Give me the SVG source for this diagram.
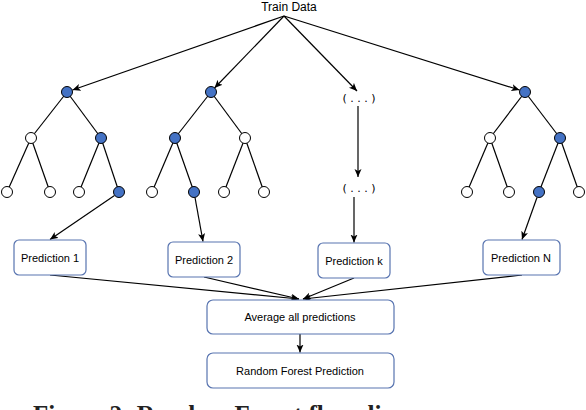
<svg xmlns="http://www.w3.org/2000/svg" width="586" height="410" viewBox="0 0 586 410">
<style>
.e{stroke:#000;stroke-width:1.2;fill:none}
.a{stroke:#000;stroke-width:1.2;fill:none;marker-end:url(#ah)}
.w{fill:#fff;stroke:#000;stroke-width:1}
.b{fill:#4472C4;stroke:#000;stroke-width:1}
.box{fill:#fff;stroke:#5874B0;stroke-width:1.2}
.t{font-family:"Liberation Sans",Arial,sans-serif;font-size:11px;fill:#000;text-anchor:middle}
.d{font-family:"DejaVu Sans",sans-serif;font-size:11px;fill:#000;text-anchor:middle}
.cap{font-family:"Liberation Serif","Times New Roman",serif;font-size:25px;font-weight:bold;fill:#222}
</style>
<defs>
<marker id="ah" markerUnits="userSpaceOnUse" markerWidth="10" markerHeight="8" refX="8" refY="3.5" orient="auto">
<path d="M0,0 L8,3.5 L0,7 L2,3.5 z" fill="#000"/>
</marker>
</defs>
<rect width="586" height="410" fill="#fff"/>

<g id="connectors">
<line class="a" x1="284" y1="16" x2="72.5" y2="90"/>
<line class="a" x1="284" y1="16" x2="214.5" y2="88"/>
<line class="a" x1="284" y1="16" x2="357" y2="91"/>
<line class="a" x1="284" y1="16" x2="519.5" y2="90"/>
<line class="a" x1="358" y1="106" x2="358" y2="177"/>
<line class="a" x1="114.5" y1="195.5" x2="50" y2="239.5"/>
<line class="a" x1="195" y1="197.5" x2="203" y2="241.5"/>
<line class="a" x1="354" y1="197" x2="354" y2="242.5"/>
<line class="a" x1="537" y1="197.5" x2="522" y2="239.5"/>
<line class="a" x1="50" y1="275" x2="299" y2="299"/>
<line class="a" x1="204" y1="277" x2="299" y2="299"/>
<line class="a" x1="354" y1="278" x2="303" y2="299"/>
<line class="a" x1="522" y1="275" x2="303" y2="299"/>
<line class="a" x1="300" y1="334" x2="300" y2="352.5"/>
</g>

<g id="train-data"><text class="t" x="289" y="11" style="font-size:12px">Train Data</text></g>

<g id="tree-1">
<line class="e" x1="67" y1="92" x2="31" y2="138"/>
<line class="e" x1="67" y1="92" x2="101" y2="138"/>
<line class="e" x1="31" y1="138" x2="7" y2="192"/>
<line class="e" x1="31" y1="138" x2="50" y2="192"/>
<line class="e" x1="101" y1="138" x2="79" y2="192"/>
<line class="e" x1="101" y1="138" x2="119" y2="192"/>
<circle class="b" cx="67" cy="92" r="5.5"/>
<circle class="w" cx="31" cy="138" r="5.5"/>
<circle class="b" cx="101" cy="138" r="5.5"/>
<circle class="w" cx="7" cy="192" r="5.5"/>
<circle class="w" cx="50" cy="192" r="5.5"/>
<circle class="w" cx="79" cy="192" r="5.5"/>
<circle class="b" cx="119" cy="192" r="5.5"/>
</g>

<g id="tree-2">
<line class="e" x1="211" y1="92" x2="175" y2="138"/>
<line class="e" x1="211" y1="92" x2="245" y2="138"/>
<line class="e" x1="175" y1="138" x2="152" y2="192"/>
<line class="e" x1="175" y1="138" x2="194" y2="192"/>
<line class="e" x1="245" y1="138" x2="224" y2="192"/>
<line class="e" x1="245" y1="138" x2="264" y2="192"/>
<circle class="b" cx="211" cy="92" r="5.5"/>
<circle class="b" cx="175" cy="138" r="5.5"/>
<circle class="w" cx="245" cy="138" r="5.5"/>
<circle class="w" cx="152" cy="192" r="5.5"/>
<circle class="b" cx="194" cy="192" r="5.5"/>
<circle class="w" cx="224" cy="192" r="5.5"/>
<circle class="w" cx="264" cy="192" r="5.5"/>
</g>

<g id="tree-k">
<text class="d" x="359" y="102">( . . . )</text>
<text class="d" x="359" y="192">( . . . )</text>
</g>

<g id="tree-n">
<line class="e" x1="525" y1="92" x2="490" y2="138"/>
<line class="e" x1="525" y1="92" x2="560" y2="138"/>
<line class="e" x1="490" y1="138" x2="467" y2="192"/>
<line class="e" x1="490" y1="138" x2="509" y2="192"/>
<line class="e" x1="560" y1="138" x2="539" y2="192"/>
<line class="e" x1="560" y1="138" x2="579" y2="192"/>
<circle class="b" cx="525" cy="92" r="5.5"/>
<circle class="w" cx="490" cy="138" r="5.5"/>
<circle class="b" cx="560" cy="138" r="5.5"/>
<circle class="w" cx="467" cy="192" r="5.5"/>
<circle class="w" cx="509" cy="192" r="5.5"/>
<circle class="b" cx="539" cy="192" r="5.5"/>
<circle class="w" cx="579" cy="192" r="5.5"/>
</g>

<g id="prediction-1"><rect class="box" x="14" y="240" width="72" height="35" rx="5"/><text class="t" x="50" y="262">Prediction 1</text></g>
<g id="prediction-2"><rect class="box" x="168" y="242" width="72" height="35" rx="5"/><text class="t" x="204" y="264">Prediction 2</text></g>
<g id="prediction-k"><rect class="box" x="318" y="243" width="72" height="35" rx="5"/><text class="t" x="354" y="265">Prediction k</text></g>
<g id="prediction-n"><rect class="box" x="483" y="240" width="77" height="35" rx="5"/><text class="t" x="521" y="262">Prediction N</text></g>
<g id="average"><rect class="box" x="207" y="300" width="187" height="34" rx="6"/><text class="t" x="300" y="321">Average all predictions</text></g>
<g id="rf-prediction"><rect class="box" x="207" y="353" width="187" height="35" rx="6"/><text class="t" x="300" y="375">Random Forest Prediction</text></g>

<text class="cap" x="33" y="423">Figure 2: Random Forest flow diagram</text>
</svg>
